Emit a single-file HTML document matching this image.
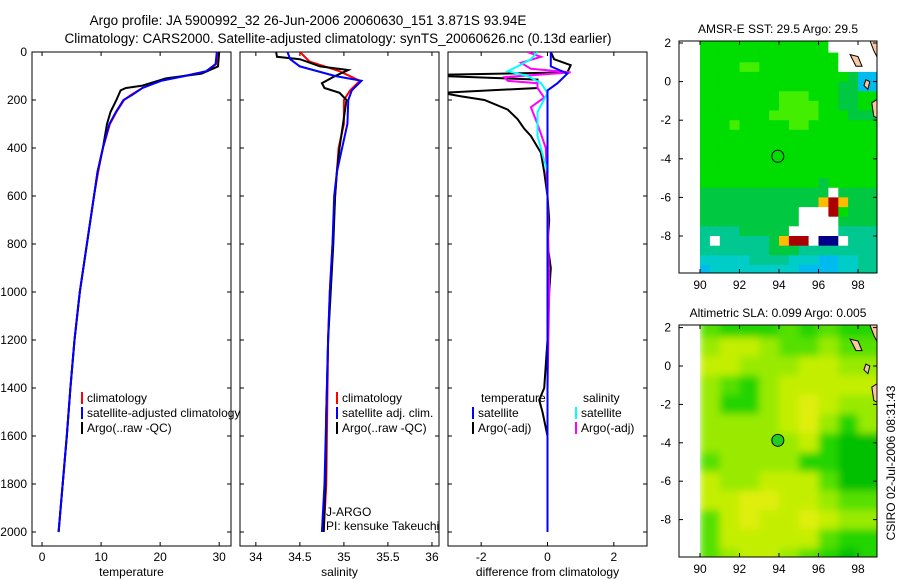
<!DOCTYPE html>
<html><head><meta charset="utf-8">
<style>
html,body{margin:0;padding:0;background:#fff;}
svg{display:block;font-family:"Liberation Sans",sans-serif;}
text{font-size:12px;fill:#000;}
</style></head>
<body>
<svg id="c" width="900" height="580" viewBox="0 0 900 580" xmlns="http://www.w3.org/2000/svg">
<defs>
<clipPath id="cp1"><rect x="32" y="52" width="199" height="494"/></clipPath>
<clipPath id="cp2"><rect x="240" y="52" width="199" height="494"/></clipPath>
<clipPath id="cp3"><rect x="448" y="52" width="199" height="494"/></clipPath>
<clipPath id="cm1"><rect x="700" y="41" width="177" height="232"/></clipPath>
<clipPath id="cm2"><rect x="700" y="325" width="177" height="232"/></clipPath>
<filter id="bl" x="-0.1" y="-0.1" width="1.2" height="1.2"><feGaussianBlur stdDeviation="4" edgeMode="duplicate"/></filter>
</defs>
<text x="308" y="25" text-anchor="middle" style="font-size:13.5px">Argo profile: JA 5900992_32 26-Jun-2006 20060630_151 3.871S 93.94E</text>
<text x="338" y="43" text-anchor="middle" style="font-size:13.5px">Climatology: CARS2000. Satellite-adjusted climatology: synTS_20060626.nc (0.13d earlier)</text>
<g id="g"></g>
</svg>
<script>
// ---- profile data (depth m, value) ----
const tDepth=[0,50,80,100,120,150,180,200,250,300,400,500,600,800,1000,1200,1400,1600,1800,2000];
const tClim=[29.7,29.5,28,24,20,17,15,13.9,12.6,11.5,10.3,9.5,8.8,7.6,6.4,5.5,4.8,4.2,3.5,2.8];
const tSat=[29.6,29.4,27.8,24.2,20.2,17,15.2,13.8,12.5,11.4,10.3,9.4,8.8,7.6,6.4,5.5,4.8,4.2,3.5,2.8];
const tArgoDepth=[0,60,90,110,140,150,160,200,250,300,400,500,600,800,1000,1200,1400,1600,1800,2000];
const tArgo=[30,29.8,27,21,17,14.2,13.3,12.6,11.6,11,10.3,9.4,8.8,7.6,6.4,5.5,4.8,4.2,3.5,2.8];

const sDepth=[0,40,80,120,160,200,300,400,500,600,800,1000,1200,1500,1800,2000];
const sClim=[34.5,34.61,34.95,35.18,35.07,35.0,35.0,34.94,34.92,34.9,34.87,34.84,34.82,34.81,34.8,34.77];
const sSatDepth=[0,30,60,100,120,160,200,300,400,500,600,800,1000,1200,1500,1800,2000];
const sSat=[34.36,34.39,34.5,34.9,35.2,35.09,35.05,35.04,34.98,34.92,34.89,34.87,34.84,34.82,34.8,34.78,34.75];
const sArgoDepth=[0,20,30,60,75,100,130,150,170,200,300,400,500,600,800,1000,1200,1500,1800,2000];
const sArgo=[34.23,34.24,34.5,34.73,35.05,34.9,34.75,34.78,34.95,35.03,34.99,34.95,34.92,34.9,34.88,34.85,34.82,34.8,34.79,34.77];

const dBlackDepth=[0,30,55,85,95,100,115,150,170,185,200,240,280,320,350,420,500,600,700,800,900,1000,1200,1400,1450,1500,1600];
const dBlack=[0.1,0.2,0.7,0.6,-3.2,-3.2,-0.3,-0.3,-3.2,-2.6,-1.9,-1.2,-0.9,-0.7,-0.5,-0.2,-0.1,0,0.05,0,0.1,0.05,0,-0.1,-0.25,-0.15,0];
const dBlueDepth=[0,60,90,130,160,2000];
const dBlue=[0.1,0.1,0.6,0.3,0,0];
const dMagDepth=[0,20,45,70,85,105,120,130,150,190,230,300,400,600,1000,1400,1600];
const dMag=[-0.6,-0.2,-0.8,-0.5,0.7,-1.3,-1.2,-0.3,-0.3,-0.1,-0.5,-0.3,-0.05,0,0.05,0,0];
const dCyanDepth=[0,30,60,80,100,130,170,250,350,500,1000,2000];
const dCyan=[-0.3,-0.5,-0.9,-1.2,-0.6,-0.2,0,-0.3,-0.3,0,0,0];

const depthTicks=[0,200,400,600,800,1000,1200,1400,1600,1800,2000];
const tTicks=[0,10,20,30];
const sTicks=[34,34.5,35,35.5,36];
const dTicks=[-2,0,2];

// ---- map data: rows top(lat 2.5) to bottom, 0.5 deg, cols lon 90..99 ----
const sstRows=[
"GGGGGGGGGGGGGWWWWW",
"GGGGGGGGGGGGGWWWWW",
"GGGGGGGGGGGGGGWWWW",
"GGGGLLGGGGGGGGWWWW",
"GGGGGGGGGGGGGGGDBB",
"GGGGGGGGGGGGGGDDBB",
"GGGGGGGGLLLGGGDDGG",
"GGGGGGGGLLLLGGDDGG",
"GGGGGGGLLLLLGGGDDD",
"GGGLGGGGGLLGGGGGGG",
"GGGGGGGGGGGGGGGGGG",
"GGGGGGGGGGGGGGGGGG",
"GGGGGGGGGGGGGGGGGG",
"GGGGGGGGGGGGGGGGGG",
"GGGGGGGGGGGGGGGGGG",
"GGGGGGGGGGGGDGGGGG",
"DDDDDDDDDDDDDWDDDD",
"DDDDDDDDDDDDYRYDDD",
"DDDDDDDDDDWWWRGDDD",
"DDDDDDDDDDWWWWDDDD",
"TTTTDDDDDWWWWWTTTT",
"TWTTTTTDYRRWNNWTTT",
"TTTTTTTDDDTTTTTTTT",
"CCCCCTTTTCCCBBCCTT",
"BCCCCCCCCCBBBBCCTT"];
const slaRows=[
"gGGGgGgGGG",
"lyylgglggg",
"yylllyylll",
"lgGlyyyyyy",
"lGGlyYylll",
"llllyYlGll",
"lllllyGDDD",
"gllllGGDDD",
"yllyyygDDD",
"yyYYyylggg",
"gyYyyYylll",
"gyyyyygGGG",
"glyylgGDGG"];
const sstCol={G:"#00dd00",L:"#44ee00",D:"#00c840",T:"#00c890",C:"#00ccc8",B:"#00bbee",W:"#ffffff",R:"#aa0000",N:"#000088",Y:"#ffbb00",S:"#f8c8a0"};
const slaCol={D:"#00c000",G:"#22d400",g:"#55e000",l:"#99ea00",y:"#c4ee00",Y:"#e0ee10",S:"#f8c8a0"};
const lonTicks=[90,92,94,96,98];
const latTicks=[2,0,-2,-4,-6,-8];
const floatLon=93.94, floatLat=-3.871;

const NS="http://www.w3.org/2000/svg";
const G=document.getElementById('g');
function mk(tag,at,parent){const e=document.createElementNS(NS,tag);for(const k in at)e.setAttribute(k,at[k]);(parent||G).appendChild(e);return e;}
function txt(x,y,s,anchor,parent){const t=mk('text',{x:x,y:y,'text-anchor':anchor||'start'},parent);t.textContent=s;return t;}

const yD=d=>52+d*0.24;
const panels=[
 {x0:32,x1:231,lo:-1.7,hi:32,ticks:tTicks,label:"temperature",clip:"cp1",name:"temperature-panel"},
 {x0:240,x1:439,lo:33.82,hi:36.08,ticks:sTicks,label:"salinity",clip:"cp2",name:"salinity-panel"},
 {x0:448,x1:647,lo:-3,hi:3,ticks:dTicks,label:"difference from climatology",clip:"cp3",name:"difference-panel"}];
panels.forEach((p,i)=>{
 p.sx=v=>p.x0+(v-p.lo)/(p.hi-p.lo)*(p.x1-p.x0);
 const fr=mk('rect',{x:p.x0,y:52,width:p.x1-p.x0,height:494,fill:'none',stroke:'#000','stroke-width':1});
 
 
 depthTicks.forEach(d=>{
  const y=yD(d);
  mk('line',{x1:p.x0,y1:y,x2:p.x0+4,y2:y,stroke:'#000'});
  mk('line',{x1:p.x1,y1:y,x2:p.x1-4,y2:y,stroke:'#000'});
  if(i===0){const t=txt(27,y+4,String(d),'end');}
 });
 p.ticks.forEach(v=>{
  const x=p.sx(v);
  mk('line',{x1:x,y1:52,x2:x,y2:56,stroke:'#000'});
  mk('line',{x1:x,y1:546,x2:x,y2:542,stroke:'#000'});
  const t=txt(x,561,String(v),'middle');
  
  
 });
 const xl=txt((p.x0+p.x1)/2,576,p.label,'middle');
 
 
});
function line(p,depths,vals,color,w,name){
 const pts=depths.map((d,k)=>p.sx(vals[k]).toFixed(1)+','+yD(d).toFixed(1)).join(' ');
 const e=mk('polyline',{points:pts,fill:'none',stroke:color,'stroke-width':w,'clip-path':'url(#'+p.clip+')'});
 
 
}
const [P1,P2,P3]=panels;
line(P1,tDepth,tClim,'#ff0000',2,'temperature-climatology-line');
line(P1,tArgoDepth,tArgo,'#000000',2,'temperature-argo-line');
line(P1,tDepth,tSat,'#0000ff',2,'temperature-satellite-line');
line(P2,sDepth,sClim,'#ff0000',2,'salinity-climatology-line');
line(P2,sArgoDepth,sArgo,'#000000',2,'salinity-argo-line');
line(P2,sSatDepth,sSat,'#0000ff',2,'salinity-satellite-line');
line(P3,dBlackDepth,dBlack,'#000000',2,'temperature-argo-diff-line');
line(P3,dMagDepth,dMag,'#ff00ff',2,'salinity-argo-diff-line');
line(P3,dCyanDepth,dCyan,'#00ffff',2,'salinity-satellite-diff-line');
line(P3,dBlueDepth,dBlue,'#0000ff',2,'temperature-satellite-diff-line');

function legendItem(x,y,color,label,name){
 const g=mk('g',{});
 
 
 mk('line',{x1:x,y1:y-10,x2:x,y2:y+2,stroke:color,'stroke-width':2},g);
 if(label) txt(x+5,y,label,'start',g);
}
legendItem(82,402,'#ff0000','climatology','legend-climatology');
legendItem(82,417,'#0000ff','satellite-adjusted climatology','legend-satellite');
legendItem(82,432,'#000000','Argo(..raw -QC)','legend-argo');
legendItem(337,402,'#ff0000','climatology','legend-sal-climatology');
legendItem(337,417,'#0000ff','satellite adj. clim.','legend-sal-satellite');
legendItem(337,432,'#000000','Argo(..raw -QC)','legend-sal-argo');
txt(481,402,'temperature');
txt(583,402,'salinity');
legendItem(473,417,'#0000ff','satellite','legend-temp-satellite');
legendItem(473,432,'#000000','Argo(-adj)','legend-temp-argo');
legendItem(576,417,'#00ffff','satellite','legend-sal-satellite-diff');
legendItem(576,432,'#ff00ff','Argo(-adj)','legend-sal-argo-diff');
txt(326,516,'J-ARGO');
txt(326,530,'PI: kensuke Takeuchi');

// ---- maps ----
function drawMap(rows,cols,step,colTop,y0,yTop,yBot,latPx,clip,title,name,blur,fillCircle){
 const lx=lon=>700+(lon-90)*19.75;
 const ly=lat=>y0-lat*latPx;
 txt(778,yTop-8,title,'middle');
 mk('rect',{x:679,y:yTop,width:198,height:yBot-yTop,fill:'#fff'});
 const g=mk('g',{'clip-path':'url(#'+clip+')'});
 
 
 const inner=mk('g',blur?{filter:'url(#bl)'}:{},g);
 rows.forEach((r,ri)=>{
  const lat=colTop-ri*step;
  for(let ci=0;ci<r.length;ci++){
   const lon=90+ci*step;
   const e=mk('rect',{x:lx(lon).toFixed(1),y:ly(lat).toFixed(1),width:(step*19.75+0.6).toFixed(1),height:(step*latPx+0.6).toFixed(1),fill:cols[r[ci]]},inner);
   
  }
 });
 // land
 const land=[[[97.6,1.4],[98.0,1.3],[98.2,0.8],[97.9,0.8]],[[98.5,2.4],[99,2.4],[99,1.2],[98.8,1.6]],[[98.7,-1.1],[99,-0.9],[99,-1.9],[98.8,-1.8]],[[98.4,0.1],[98.6,0.0],[98.5,-0.4],[98.3,-0.2]]];
 land.forEach(pl=>{
  const e=mk('polygon',{points:pl.map(q=>lx(q[0]).toFixed(1)+','+ly(q[1]).toFixed(1)).join(' '),fill:'#f8c8a0',stroke:'#000','stroke-width':1},g);
  
 });
 const ci=mk('circle',{cx:lx(floatLon),cy:ly(floatLat),r:6,fill:fillCircle?'#22cc22':'none',stroke:'#000','stroke-width':1});
 
 
 const fr=mk('rect',{x:679,y:yTop,width:198,height:yBot-yTop,fill:'none',stroke:'#000'});
 
 
 lonTicks.forEach(l=>{const x=lx(l);mk('line',{x1:x,y1:yBot,x2:x,y2:yBot-4,stroke:'#000'});mk('line',{x1:x,y1:yTop,x2:x,y2:yTop+4,stroke:'#000'});
  txt(x,yBot+16,String(l),'middle');});
 latTicks.forEach(l=>{const y=ly(l);mk('line',{x1:679,y1:y,x2:683,y2:y,stroke:'#000'});mk('line',{x1:877,y1:y,x2:873,y2:y,stroke:'#000'});
  txt(671,y+4,String(l),'end');});
}
drawMap(sstRows,sstCol,0.5,2.5,81.6,41,273,19.3,'cm1','AMSR-E SST: 29.5 Argo: 29.5','sst-map',false,false);
drawMap(slaRows,slaCol,1,2.5,366,325,557,19.2,'cm2','Altimetric SLA: 0.099 Argo: 0.005','sla-map',true,true);
const st=txt(0,0,'CSIRO 02-Jul-2006 08:31:43','middle');
st.setAttribute('transform','translate(895,463) rotate(-90)');


</script>
</body></html>
